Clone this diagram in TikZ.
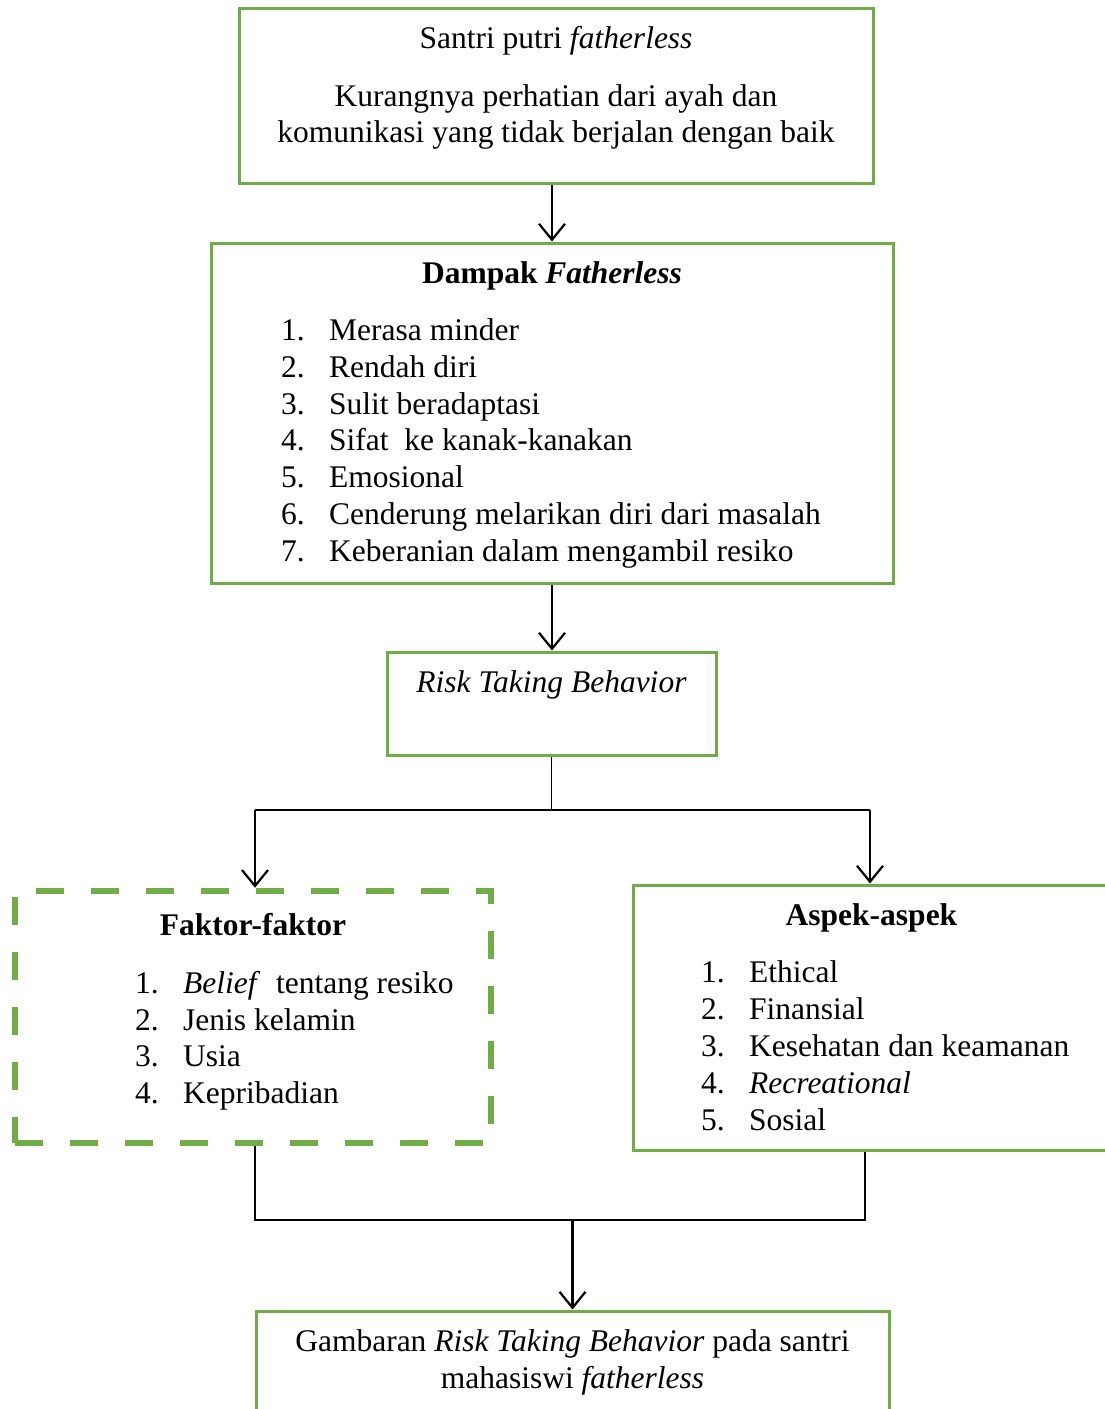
\documentclass[tikz,border=0pt]{standalone}
\usepackage{fontspec}
\setmainfont{Liberation Serif}
\usetikzlibrary{arrows.meta}
\definecolor{gr}{HTML}{70AD47}
\begin{document}
\begin{tikzpicture}[x=1pt,y=-1pt,
  every node/.style={font=\fontsize{31.5pt}{37pt}\selectfont, inner sep=0pt},
  box/.style={draw=gr, line width=3pt, inner sep=0pt},
  dbox/.style={draw=gr, line width=6.5pt, dash pattern=on 28pt off 27pt, inner sep=0pt},
  txt/.style={anchor=mid},
  item/.style={anchor=mid west},
  conn/.style={draw=black, line width=1.4pt},
  arr/.style={draw=black, line width=2.2pt, -{Straight Barb[length=16pt,width=26pt]}}
]
\useasboundingbox (0,0) rectangle (1105,1409);
\clip (0,0) rectangle (1105,1409);

% boxes
\node[box, minimum width=634pt, minimum height=175pt] (b1) at (556,95.5) {};
\node[box, minimum width=682pt, minimum height=340pt] (b2) at (552,413) {};
\node[box, minimum width=329pt, minimum height=103pt] (b3) at (551.5,703.5) {};
\node[dbox, minimum width=476pt, minimum height=252pt] (b4) at (253,1017) {};
\node[box, minimum width=477pt, minimum height=265pt] (b5) at (871.5,1017.5) {};
\node[box, minimum width=633pt, minimum height=120pt] (b6) at (572.5,1371) {};

% texts box 1
\node[txt] (t1a) at (556,46) {Santri putri \textit{fatherless}};
\node[txt] (t1b) at (556,104) {Kurangnya perhatian dari ayah dan};
\node[txt] (t1c) at (556,140) {komunikasi yang tidak berjalan dengan baik};

% box 2
\node[txt] (t2h) at (552,281) {\textbf{Dampak \textit{Fatherless}}};
\node[item] (t21) at (281,338) {\makebox[48pt][l]{1.}Merasa minder};
\node[item] (t22) at (281,375) {\makebox[48pt][l]{2.}Rendah diri};
\node[item] (t23) at (281,412) {\makebox[48pt][l]{3.}Sulit beradaptasi};
\node[item] (t24) at (281,448) {\makebox[48pt][l]{4.}Sifat\ \ ke kanak-kanakan};
\node[item] (t25) at (281,485) {\makebox[48pt][l]{5.}Emosional};
\node[item] (t26) at (281,522) {\makebox[48pt][l]{6.}Cenderung melarikan diri dari masalah};
\node[item] (t27) at (281,559) {\makebox[48pt][l]{7.}Keberanian dalam mengambil resiko};

% box 3
\node[txt] (t3) at (551.5,690) {\textit{Risk Taking Behavior}};

% box 4
\node[txt] (t4h) at (253,933) {\textbf{Faktor-faktor}};
\node[item] (t41) at (135,991) {\makebox[48pt][l]{1.}\textit{Belief}\ \ tentang resiko};
\node[item] (t42) at (135,1028) {\makebox[48pt][l]{2.}Jenis kelamin};
\node[item] (t43) at (135,1064) {\makebox[48pt][l]{3.}Usia};
\node[item] (t44) at (135,1101) {\makebox[48pt][l]{4.}Kepribadian};

% box 5
\node[txt] (t5h) at (871.5,923) {\textbf{Aspek-aspek}};
\node[item] (t51) at (701,980) {\makebox[48pt][l]{1.}Ethical};
\node[item] (t52) at (701,1017) {\makebox[48pt][l]{2.}Finansial};
\node[item] (t53) at (701,1054) {\makebox[48pt][l]{3.}Kesehatan dan keamanan};
\node[item] (t54) at (701,1091) {\makebox[48pt][l]{4.}\textit{Recreational}};
\node[item] (t55) at (701,1128) {\makebox[48pt][l]{5.}Sosial};

% box 6
\node[txt] (t6a) at (572.5,1349) {Gambaran \textit{Risk Taking Behavior} pada santri};
\node[txt] (t6b) at (572.5,1386) {mahasiswi \textit{fatherless}};

% junction coordinates
\coordinate (jl) at (255,810);
\coordinate (jr) at (870,810);
\coordinate (kl) at (255,1220);
\coordinate (kr) at (865,1220);

% connectors
\draw[arr] (b1.south -| b2.north) -- (b2.north);
\draw[arr] (b2.south) -- (b2.south |- b3.north);
\draw[conn] (b3.south) -- (b3.south |- jl);
\draw[conn] (jl) -- (jr);
\draw[arr] (jl) -- (jl |- b4.north);
\draw[arr] (jr) -- (jr |- b5.north);
\draw[conn] (kl |- b4.south) -- (kl) -- (kr) -- (kr |- b5.south);
\draw[arr] (b6.north |- kl) -- (b6.north);
\end{tikzpicture}
\end{document}
